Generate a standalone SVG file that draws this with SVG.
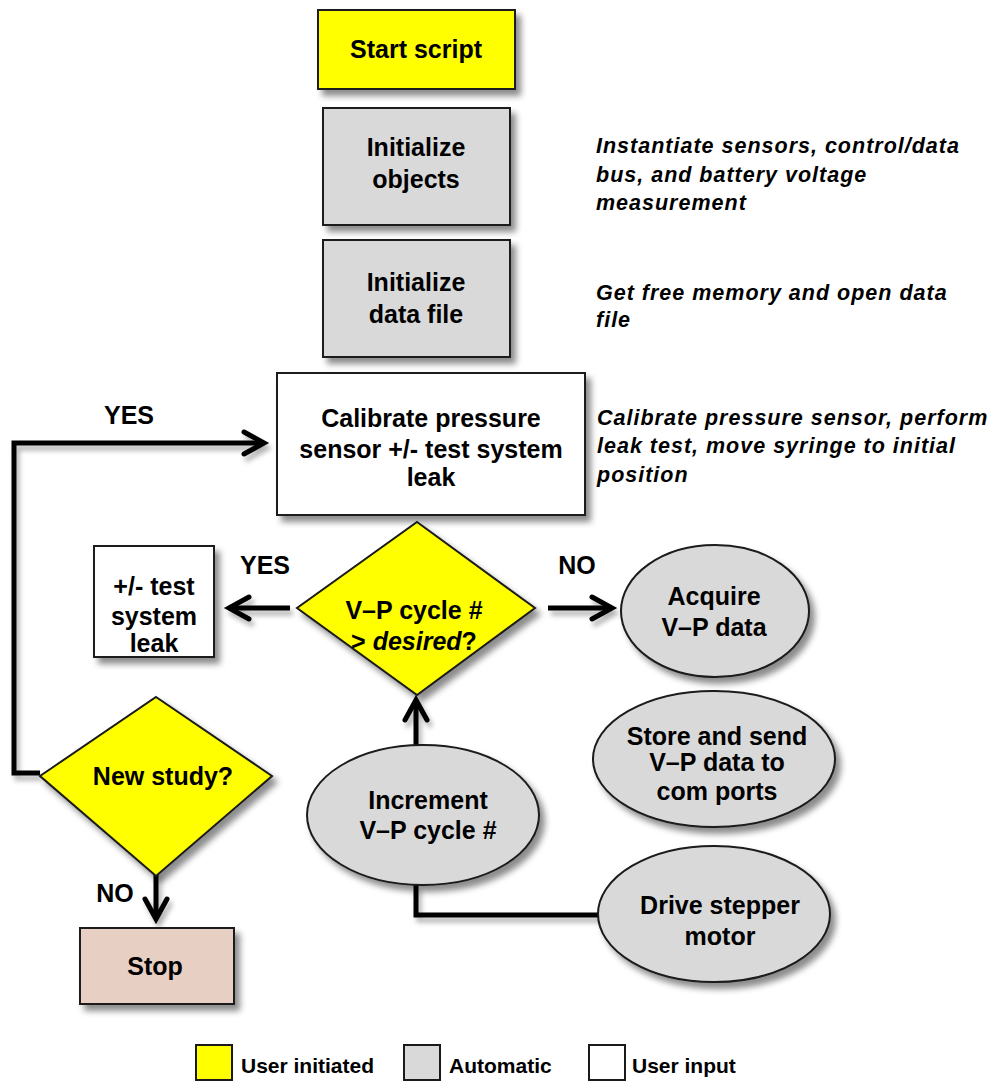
<svg xmlns="http://www.w3.org/2000/svg" width="1000" height="1082" viewBox="0 0 1000 1082">
<defs>
<filter id="sh" x="-20%" y="-20%" width="150%" height="150%">
<feDropShadow dx="5" dy="6" stdDeviation="3" flood-color="#000" flood-opacity="0.45"/>
</filter>
<filter id="lsh" x="-20%" y="-20%" width="150%" height="150%">
<feDropShadow dx="3" dy="5" stdDeviation="2.5" flood-color="#000" flood-opacity="0.3"/>
</filter>
<marker id="arr" markerUnits="userSpaceOnUse" markerWidth="30" markerHeight="30" refX="24" refY="15" orient="auto" overflow="visible">
<path d="M4,4 L24,15 L4,26" fill="none" stroke="#000" stroke-width="5" stroke-linecap="round" stroke-linejoin="miter"/>
</marker>
</defs>
<style>
.n{stroke:#1a1a1a;stroke-width:2}
.y{fill:#ffff00}
.g{fill:#d9d9d9}
.w{fill:#ffffff}
.s{fill:#e8cfc3}
.t{font-family:"Liberation Sans",Arial,sans-serif;font-weight:bold;font-size:25px;fill:#000;text-anchor:middle}
.a{font-family:"Liberation Sans",Arial,sans-serif;font-weight:bold;font-style:italic;font-size:21.5px;letter-spacing:1px;fill:#000}
.l{font-family:"Liberation Sans",Arial,sans-serif;font-weight:bold;font-size:25px;fill:#000;text-anchor:middle}
.lg{font-family:"Liberation Sans",Arial,sans-serif;font-weight:bold;font-size:21px;fill:#000}
.c{fill:none;stroke:#000;stroke-width:5}
</style>
<rect width="1000" height="1082" fill="#fff"/>

<g id="connectors" filter="url(#lsh)">
<polyline class="c" points="40,773 14,773 14,443 264,443" marker-end="url(#arr)"/>
<line class="c" x1="290" y1="608" x2="229" y2="608" marker-end="url(#arr)"/>
<line class="c" x1="548" y1="608" x2="612" y2="608" marker-end="url(#arr)"/>
<line class="c" x1="416" y1="745" x2="416" y2="700" marker-end="url(#arr)"/>
<line class="c" x1="156" y1="870" x2="156" y2="919" marker-end="url(#arr)"/>
<polyline class="c" points="416,885 416,915 600,915"/>
</g>

<g id="start">
<rect class="n y" x="318" y="10" width="197" height="79" filter="url(#sh)"/>
<text class="t" x="416" y="58">Start script</text>
</g>
<g id="init-objects">
<rect class="n g" x="323" y="108" width="187" height="117" filter="url(#sh)"/>
<text class="t" x="416" y="156">Initialize</text>
<text class="t" x="416" y="188">objects</text>
</g>
<g id="init-data">
<rect class="n g" x="323" y="240" width="187" height="117" filter="url(#sh)"/>
<text class="t" x="416" y="291">Initialize</text>
<text class="t" x="416" y="323">data file</text>
</g>
<g id="calibrate">
<rect class="n w" x="277" y="373" width="308" height="142" filter="url(#sh)"/>
<text class="t" x="431" y="427">Calibrate pressure</text>
<text class="t" x="431" y="458">sensor +/- test system</text>
<text class="t" x="431" y="486">leak</text>
</g>
<g id="vp-decision">
<polygon class="n y" points="417,522 535,608 417,695 297,608" filter="url(#sh)"/>
<text class="t" x="414" y="619">V–P cycle #</text>
<text class="t" x="414" y="650">&gt; <tspan font-style="italic">desired</tspan>?</text>
</g>
<g id="test-leak">
<rect class="n w" x="94" y="546" width="120" height="111" filter="url(#sh)"/>
<text class="t" x="154" y="595">+/- test</text>
<text class="t" x="154" y="625">system</text>
<text class="t" x="154" y="652">leak</text>
</g>
<g id="new-study">
<polygon class="n y" points="156,697 272,776 156,876 40,776" filter="url(#sh)"/>
<text class="t" x="163" y="785">New study?</text>
</g>
<g id="stop">
<rect class="n s" x="80" y="928" width="154" height="76" filter="url(#sh)"/>
<text class="t" x="155" y="975" fill="#2a1a1a">Stop</text>
</g>
<g id="acquire">
<ellipse class="n g" cx="715" cy="611" rx="94" ry="66" filter="url(#sh)"/>
<text class="t" x="714" y="605">Acquire</text>
<text class="t" x="714" y="636">V–P data</text>
</g>
<g id="store">
<ellipse class="n g" cx="714" cy="759" rx="121" ry="68" filter="url(#sh)"/>
<text class="t" x="717" y="745">Store and send</text>
<text class="t" x="717" y="771">V–P data to</text>
<text class="t" x="717" y="800">com ports</text>
</g>
<g id="increment">
<ellipse class="n g" cx="423" cy="815" rx="116" ry="70" filter="url(#sh)"/>
<text class="t" x="428" y="809">Increment</text>
<text class="t" x="428" y="839">V–P cycle #</text>
</g>
<g id="drive">
<ellipse class="n g" cx="714" cy="914" rx="116" ry="68" filter="url(#sh)"/>
<text class="t" x="720" y="914">Drive stepper</text>
<text class="t" x="720" y="945">motor</text>
</g>

<g id="labels">
<text class="l" x="129" y="424">YES</text>
<text class="l" x="265" y="574">YES</text>
<text class="l" x="577" y="574">NO</text>
<text class="l" x="115" y="902">NO</text>
</g>

<g id="annotations">
<text class="a" x="596" y="153">Instantiate sensors, control/data</text>
<text class="a" x="596" y="182">bus, and battery voltage</text>
<text class="a" x="596" y="210">measurement</text>
<text class="a" x="596" y="300">Get free memory and open data</text>
<text class="a" x="596" y="327">file</text>
<text class="a" x="597" y="425">Calibrate pressure sensor, perform</text>
<text class="a" x="597" y="453">leak test, move syringe to initial</text>
<text class="a" x="597" y="482">position</text>
</g>

<g id="legend">
<rect class="n y" x="196" y="1045" width="36" height="35"/>
<text class="lg" x="241" y="1073">User initiated</text>
<rect class="n g" x="404" y="1045" width="36" height="35"/>
<text class="lg" x="449" y="1073">Automatic</text>
<rect class="n w" x="589" y="1045" width="36" height="35"/>
<text class="lg" x="632" y="1073">User input</text>
</g>
</svg>
